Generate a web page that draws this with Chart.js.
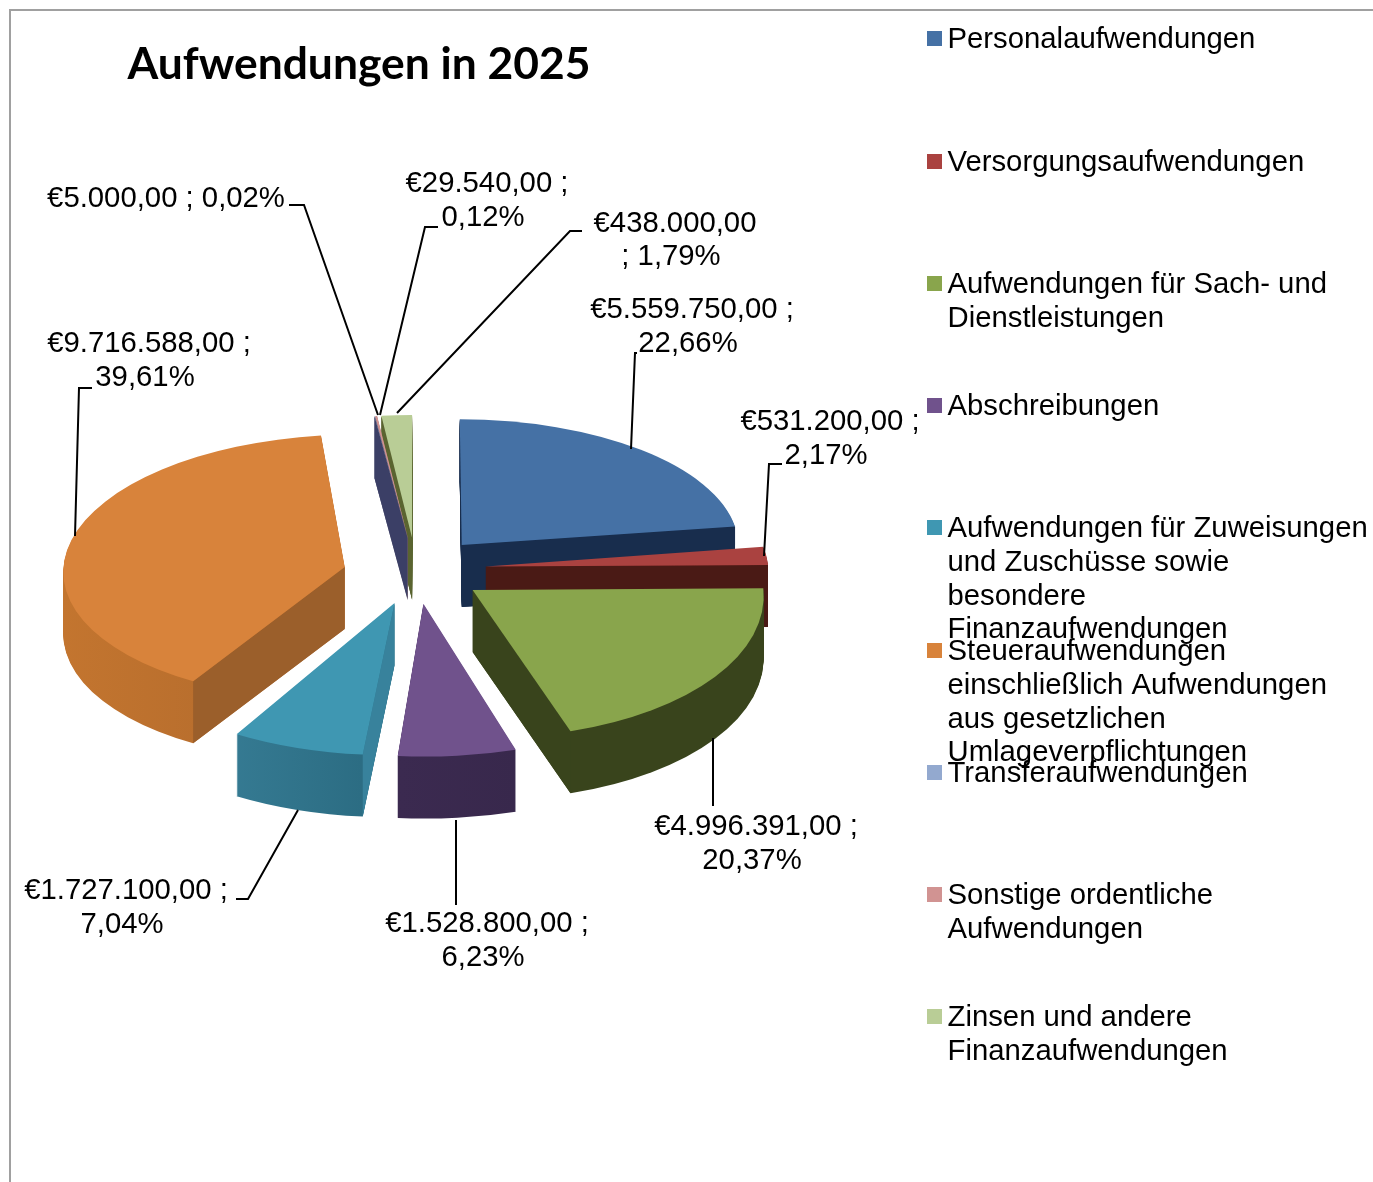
<!DOCTYPE html>
<html lang="de">
<head>
<meta charset="utf-8">
<title>Aufwendungen in 2025</title>
<style>html,body{margin:0;padding:0;background:#fff;overflow:hidden}canvas{display:block}</style>
<script src="https://cdn.jsdelivr.net/npm/chart.js@4/dist/chart.umd.min.js"></script>
</head>
<body>
<canvas id="c" width="1373" height="1182"></canvas>
<script>
const chartTitle = 'Aufwendungen in 2025';
const categories = [
  'Personalaufwendungen',
  'Versorgungsaufwendungen',
  'Aufwendungen für Sach- und Dienstleistungen',
  'Abschreibungen',
  'Aufwendungen für Zuweisungen und Zuschüsse sowie besondere Finanzaufwendungen',
  'Steueraufwendungen einschließlich Aufwendungen aus gesetzlichen Umlageverpflichtungen',
  'Transferaufwendungen',
  'Sonstige ordentliche Aufwendungen',
  'Zinsen und andere Finanzaufwendungen'
];
const values = [5559750, 531200, 4996391, 1528800, 1727100, 9716588, 5000, 29540, 438000];
const percents = ['22,66%', '2,17%', '20,37%', '6,23%', '7,04%', '39,61%', '0,02%', '0,12%', '1,79%'];

const topColors  = ['#4571a5', '#aa4240', '#89a54c', '#70528c', '#3f97b2', '#d8833b', '#93a9cf', '#d19392', '#b9cd96'];
const wallLeft   = ['#182d4d', '#4a1a15', '#39441c', '#3b2a50', '#357a92', '#c3752f', '#3b3f66', '#8a6a6a', '#5a6430'];
const wallRight  = ['#182d4d', '#7a2522', '#39441c', '#38284c', '#2a6a80', '#b0692c', '#3b3f66', '#8a6a6a', '#5a6430'];
const cutColors  = ['#182d4d', '#4a1a15', '#39441c', '#3b2a50', '#38829c', '#9b5f2b', '#3b3f66', '#8a6a6a', '#5a6430'];
const drawOrder  = [8, 7, 6, 0, 1, 5, 2, 4, 3];

const legendLines = [
  ['Personalaufwendungen'],
  ['Versorgungsaufwendungen'],
  ['Aufwendungen für Sach- und', 'Dienstleistungen'],
  ['Abschreibungen'],
  ['Aufwendungen für Zuweisungen', 'und Zuschüsse sowie', 'besondere', 'Finanzaufwendungen'],
  ['Steueraufwendungen', 'einschließlich Aufwendungen', 'aus gesetzlichen', 'Umlageverpflichtungen'],
  ['Transferaufwendungen'],
  ['Sonstige ordentliche', 'Aufwendungen'],
  ['Zinsen und andere', 'Finanzaufwendungen']
];
const legendTops = [38, 161, 283, 405, 527, 650, 772, 894, 1016];
const legendStep = 33.8;

// label layout: [x, y] of each text line centre and the leader polyline
const labelLayout = [
  {lines: [[692, 308], [688, 342]], leader: [[637, 353], [635, 353], [631, 449]]},
  {lines: [[830, 420], [826, 454]], leader: [[782, 464], [769, 464], [764, 556]]},
  {lines: [[756, 825], [752, 859]], leader: [[713, 738], [713, 806]]},
  {lines: [[487, 922], [483, 956]], leader: [[456, 820], [456, 905]]},
  {lines: [[126, 889], [122, 923]], leader: [[236, 899], [248, 899], [298, 810]]},
  {lines: [[149, 342], [145, 376]], leader: [[92, 388], [79, 388], [75, 536]]},
  {lines: [[166, 197]], oneLine: true, leader: [[289, 205], [304, 205], [378, 415]]},
  {lines: [[487, 182], [483, 216]], leader: [[438, 227], [425, 227], [380, 415]]},
  {lines: [[675, 222], [671, 255]], splitLate: true, leader: [[582, 231], [570, 231], [397, 413]]}
];

const euro = v => '€' + v.toLocaleString('de-DE', {minimumFractionDigits: 2, maximumFractionDigits: 2});

const CX = 416, CY = 569, EXPLODE = 70, DEPTH = 62, RADIUS = 283;

const pie3d = {
  id: 'pie3d',
  beforeDatasetsDraw(chart) {
    const ctx = chart.ctx;
    const meta = chart.getDatasetMeta(0);
    drawOrder.forEach(i => {
      const el = meta.data[i];
      const {startAngle: a0, endAngle: a1, outerRadius: R, x: ex, y: ey} = el;
      const mid = (a0 + a1) / 2;
      const sinM = Math.sin(mid), cosM = Math.cos(mid);
      // perspective: nearer slices are taller, larger and fan outwards
      const r = sinM > 0 ? 0.51 - 0.01 * Math.pow(sinM, 4) : 0.477 + 0.03 * sinM;
      const s = sinM > 0 ? 1 + 0.08 * sinM * sinM : 1 + 0.03 * sinM;
      const k = 0.1 * cosM * Math.min(1, Math.max(0, sinM + 1));
      const apexX = CX + EXPLODE * cosM - (cosM < 0 ? 3 * Math.pow(cosM, 4) : 0);
      const apexY = CY + EXPLODE * sinM * r + (cosM < 0 ? 5 * cosM * cosM : 0);
      const c = k * r * s;
      const e = apexX - s * ex - c * ey;
      const f = apexY - r * s * ey;
      const px = a => apexX + s * R * Math.cos(a) + k * r * s * R * Math.sin(a);
      const py = a => apexY + r * s * R * Math.sin(a);
      const base = el.options;
      let minX = apexX, maxX = apexX;
      for (let n = 0; n <= 24; n++) {
        const x = px(a0 + (a1 - a0) * n / 24);
        minX = Math.min(minX, x); maxX = Math.max(maxX, x);
      }
      const grad = ctx.createLinearGradient((minX - apexX) / s + ex, 0, (maxX - apexX) / s + ex, 0);
      grad.addColorStop(0, wallLeft[i]);
      grad.addColorStop(1, wallRight[i]);
      const wallOpts = Object.create(base);
      wallOpts.backgroundColor = grad;
      wallOpts.borderWidth = 0;
      el.options = wallOpts;
      for (let d = DEPTH; d >= 1; d -= 1) {
        ctx.save();
        ctx.setTransform(s, 0, c, r * s, e, f + d);
        el.draw(ctx);
        ctx.restore();
      }
      el.options = base;
      const wall = a => {
        ctx.save();
        ctx.fillStyle = cutColors[i];
        ctx.beginPath();
        ctx.moveTo(apexX, apexY);
        ctx.lineTo(px(a), py(a));
        ctx.lineTo(px(a), py(a) + DEPTH);
        ctx.lineTo(apexX, apexY + DEPTH);
        ctx.closePath();
        ctx.fill();
        ctx.restore();
      };
      if (Math.cos(a0) < -1e-3) wall(a0);
      if (Math.cos(a1) > 1e-3) wall(a1);
      ctx.save();
      ctx.setTransform(s, 0, c, r * s, e, f);
      el.draw(ctx);
      ctx.restore();
    });
    return false;
  },
  afterDraw(chart) {
    const ctx = chart.ctx;
    ctx.save();
    ctx.strokeStyle = '#a0a0a0';
    ctx.lineWidth = 2;
    ctx.beginPath();
    ctx.moveTo(10, 1182); ctx.lineTo(10, 10); ctx.lineTo(1373, 10);
    ctx.stroke();
    ctx.fillStyle = '#000';
    ctx.textBaseline = 'middle';
    ctx.textAlign = 'center';
    ctx.font = 'bold 44.4px Lato, "Noto Sans", sans-serif';
    ctx.fillText(chartTitle, 359, 65);
    ctx.font = '29.3px "Liberation Sans", Arial, sans-serif';
    ctx.strokeStyle = '#000';
    ctx.lineWidth = 2;
    labelLayout.forEach((lay, i) => {
      ctx.beginPath();
      lay.leader.forEach((p, n) => n ? ctx.lineTo(p[0], p[1]) : ctx.moveTo(p[0], p[1]));
      ctx.stroke();
      let texts;
      if (lay.oneLine) texts = [euro(values[i]) + ' ; ' + percents[i]];
      else if (lay.splitLate) texts = [euro(values[i]), '; ' + percents[i]];
      else texts = [euro(values[i]) + ' ;', percents[i]];
      texts.forEach((t, n) => ctx.fillText(t, lay.lines[n][0], lay.lines[n][1] + 2));
    });
    ctx.textAlign = 'left';
    legendLines.forEach((lines, i) => {
      ctx.fillStyle = topColors[i];
      ctx.fillRect(927, legendTops[i] - 7, 15, 15);
      ctx.fillStyle = '#000';
      lines.forEach((t, n) => ctx.fillText(t, 947.5, legendTops[i] + 2 + n * legendStep));
    });
    ctx.restore();
  }
};

new Chart(document.getElementById('c').getContext('2d'), {
  type: 'pie',
  data: {
    labels: categories,
    datasets: [{data: values, backgroundColor: topColors, borderWidth: 0, clip: false}]
  },
  options: {
    responsive: false,
    maintainAspectRatio: false,
    animation: false,
    radius: RADIUS,
    layout: {padding: 0},
    events: [],
    plugins: {legend: {display: false}, tooltip: {enabled: false}, title: {display: false}}
  },
  plugins: [pie3d]
});
</script>
</body>
</html>
